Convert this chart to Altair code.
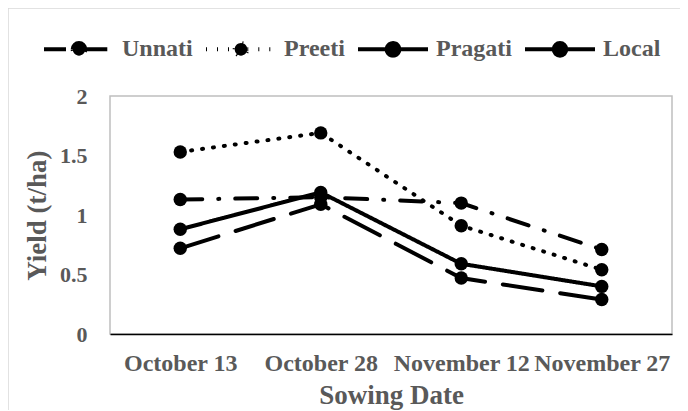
import altair as alt
import pandas as pd

dates = ["October 13", "October 28", "November 12", "November 27"]
series = ["Unnati", "Preeti", "Pragati", "Local"]
unnati = [1.13, 1.15, 1.10, 0.71]
preeti = [1.53, 1.69, 0.91, 0.54]
pragati = [0.88, 1.19, 0.59, 0.40]
local = [0.72, 1.09, 0.47, 0.29]

rows = []
for name, vals in zip(series, [unnati, preeti, pragati, local]):
    for d, v in zip(dates, vals):
        rows.append({"date": d, "series": name, "yield": v})
df = pd.DataFrame(rows)

dashes = [[22, 16, 1, 16], [1, 10], [1, 0], [40, 18]]
TEXT = "#595959"
FONT = "Liberation Serif"
SYMBOL = ("M-1,0L-0.18,0M0.18,0L1,0"
          "M-0.18,0A0.18,0.18,0,1,1,0.18,0A0.18,0.18,0,1,1,-0.18,0Z")

x_enc = alt.X("date:N", sort=dates,
              scale=alt.Scale(type="point", padding=0.5),
              axis=alt.Axis(title="Sowing Date", labelAngle=0, ticks=False,
                            domainColor="black", domainWidth=1.5,
                            labelPadding=17, titlePadding=7))
y_enc = alt.Y("yield:Q", scale=alt.Scale(domain=[0, 2]),
              axis=alt.Axis(title="Yield (t/ha)", values=[0, 0.5, 1, 1.5, 2],
                            format=".1~f", labelFontSize=22,
                            ticks=False, domain=False, grid=False,
                            labelPadding=23, titlePadding=8))

lines = alt.Chart(df).mark_line(strokeWidth=4, color="black", strokeCap="round").encode(
    x=x_enc, y=y_enc,
    strokeDash=alt.StrokeDash("series:N",
                              scale=alt.Scale(domain=series, range=dashes),
                              legend=alt.Legend(title=None, orient="none",
                                                direction="horizontal",
                                                legendX=-68, legendY=-84,
                                                symbolType=SYMBOL,
                                                symbolSize=4900,
                                                symbolStrokeWidth=4,
                                                symbolStrokeColor="black",
                                                symbolFillColor="black",
                                                symbolOpacity=1,
                                                labelFont=FONT, labelFontSize=24,
                                                labelFontWeight="bold",
                                                labelColor=TEXT,
                                                columnPadding=5,
                                                labelOffset=6)),
)
points = alt.Chart(df).mark_circle(size=180, color="black", opacity=1).encode(
    x=x_enc, y=y_enc, detail="series:N"
)

border = alt.Chart(alt.Data(values=[{}])).mark_rule(color="#d9d9d9", strokeWidth=1.5, clip=False)
left_border = border.encode(x=alt.value(-102), y=alt.value(-88), y2=alt.value(400))
top_border = border.encode(x=alt.value(-102), x2=alt.value(700), y=alt.value(-88))

chart = alt.layer(left_border, top_border, lines, points).properties(
    width=562, height=238,
    autosize=alt.AutoSizeParams(type="none"),
    padding={"left": 102, "top": 88, "right": 8, "bottom": 76},
).configure_view(
    stroke="#bfbfbf", strokeWidth=1.5
).configure_axis(
    labelFont=FONT, labelFontSize=24, labelFontWeight="bold", labelColor=TEXT,
    titleFont=FONT, titleFontSize=27, titleFontWeight="bold", titleColor=TEXT,
    grid=False
)

chart.save("out.html", embed_options={"renderer": "svg", "actions": False})
